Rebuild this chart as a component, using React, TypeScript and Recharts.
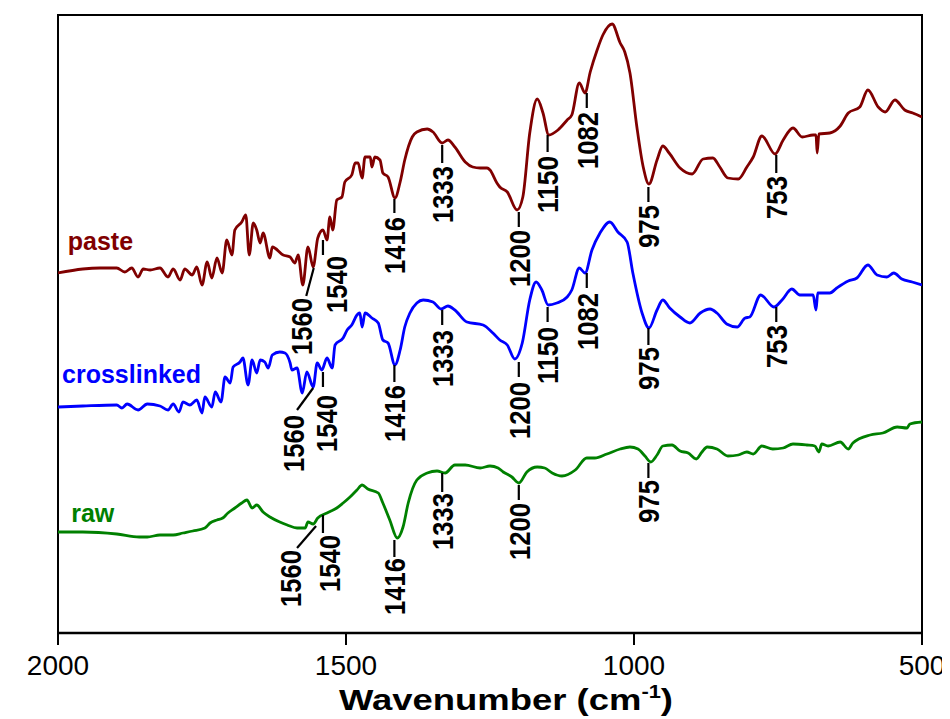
import React from "react";
import { LineChart, Line, XAxis, YAxis, ReferenceLine, ReferenceDot, ReferenceArea } from "recharts";

const FONT = "'Liberation Sans', Arial, Helvetica, sans-serif";

// Wavenumber (cm-1) axis ticks
const xTicks = [2000, 1500, 1000, 500];

// ---- paste spectrum (offset, arbitrary units) ----
const pasteWn = [2000, 1957, 1927, 1898, 1884, 1872, 1861, 1852, 1840, 1823, 1809, 1800, 1788, 1780, 1767, 1759, 1750, 1741, 1733, 1724, 1715, 1707, 1698, 1693, 1681, 1674, 1668, 1661, 1655, 1649, 1644, 1632, 1628, 1609, 1597, 1589, 1583, 1575, 1566, 1557, 1549, 1540, 1533, 1528, 1523, 1516, 1507, 1502, 1490, 1484, 1479, 1472, 1467, 1458, 1455, 1450, 1441, 1436, 1427, 1415, 1406, 1398, 1385, 1377, 1359, 1349, 1333, 1323, 1311, 1293, 1280, 1267, 1255, 1250, 1238, 1233, 1220, 1203, 1193, 1181, 1168, 1158, 1148, 1132, 1116, 1108, 1095, 1085, 1076, 1064, 1054, 1038, 1024, 1016, 1007, 995, 984, 974, 960, 950, 939, 920, 899, 880, 863, 851, 837, 819, 804, 793, 778, 755, 741, 724, 708, 689, 684, 682, 679, 660, 642, 628, 608, 594, 576, 564, 547, 530, 516, 500];
const pasteT = [360, 364, 365, 365, 361, 365, 356, 364, 363, 365, 356, 364, 353, 364, 358, 366, 348, 371, 355, 375, 360, 393, 378, 403, 411, 418, 378, 410, 403, 390, 400, 375, 386, 378, 376, 370, 378, 348, 386, 366, 395, 403, 393, 416, 403, 433, 436, 451, 458, 470, 470, 455, 476, 476, 466, 476, 473, 460, 456, 435, 451, 473, 496, 501, 504, 501, 490, 493, 486, 471, 466, 465, 465, 463, 450, 446, 441, 423, 436, 500, 534, 520, 498, 503, 513, 518, 550, 540, 561, 583, 598, 609, 590, 581, 560, 506, 466, 449, 473, 487, 480, 465, 459, 474, 475, 466, 455, 454, 466, 476, 497, 479, 493, 505, 496, 498, 498, 480, 499, 500, 507, 520, 526, 543, 526, 521, 533, 523, 520, 516];

// ---- crosslinked spectrum ----
const crossWn = [2000, 1957, 1898, 1889, 1880, 1861, 1845, 1823, 1809, 1800, 1790, 1783, 1771, 1759, 1750, 1745, 1733, 1727, 1717, 1710, 1701, 1696, 1684, 1679, 1670, 1663, 1655, 1649, 1641, 1635, 1628, 1615, 1606, 1597, 1594, 1585, 1576, 1568, 1557, 1550, 1542, 1533, 1524, 1519, 1505, 1498, 1490, 1481, 1476, 1472, 1467, 1455, 1444, 1436, 1427, 1415, 1406, 1398, 1389, 1377, 1366, 1349, 1335, 1323, 1311, 1290, 1262, 1245, 1233, 1220, 1207, 1194, 1181, 1170, 1160, 1149, 1134, 1116, 1108, 1095, 1085, 1073, 1059, 1042, 1028, 1012, 1002, 986, 974, 960, 950, 938, 920, 903, 885, 868, 856, 839, 821, 807, 799, 780, 757, 743, 726, 712, 689, 684, 681, 660, 648, 628, 613, 594, 578, 561, 549, 535, 517, 500];
const crossT = [226, 227, 228, 225, 229, 223, 229, 227, 223, 229, 221, 231, 228, 233, 220, 236, 226, 241, 231, 256, 250, 266, 271, 275, 248, 273, 260, 273, 271, 265, 278, 281, 280, 270, 263, 265, 240, 261, 246, 270, 263, 275, 265, 288, 295, 303, 308, 318, 320, 306, 320, 315, 310, 293, 290, 268, 283, 306, 320, 330, 333, 331, 324, 327, 323, 311, 308, 300, 293, 288, 274, 290, 333, 351, 343, 328, 330, 336, 343, 365, 360, 383, 400, 411, 401, 391, 360, 320, 305, 323, 333, 325, 316, 310, 320, 324, 320, 309, 306, 315, 316, 338, 326, 333, 344, 338, 338, 323, 340, 340, 345, 352, 355, 368, 358, 356, 360, 354, 351, 348];

// ---- raw spectrum ----
const rawWn = [2000, 1957, 1898, 1859, 1845, 1823, 1800, 1783, 1766, 1745, 1736, 1724, 1714, 1705, 1693, 1681, 1672, 1663, 1655, 1644, 1632, 1615, 1602, 1585, 1571, 1566, 1557, 1549, 1533, 1516, 1505, 1493, 1481, 1472, 1462, 1444, 1436, 1424, 1411, 1401, 1392, 1377, 1359, 1342, 1328, 1311, 1293, 1267, 1250, 1236, 1227, 1212, 1200, 1186, 1168, 1155, 1142, 1125, 1102, 1082, 1068, 1047, 1024, 1007, 993, 981, 971, 960, 950, 934, 920, 906, 892, 882, 873, 856, 837, 819, 804, 793, 778, 759, 741, 724, 700, 686, 679, 674, 663, 642, 628, 620, 590, 568, 543, 526, 521, 500];
const rawT = [101, 101, 99, 96, 96, 98, 98, 100, 102, 105, 110, 113, 115, 120, 125, 130, 133, 125, 128, 121, 116, 111, 108, 105, 105, 111, 109, 115, 120, 125, 130, 136, 143, 148, 144, 140, 130, 113, 95, 106, 130, 153, 160, 162, 160, 168, 168, 165, 167, 165, 161, 156, 150, 161, 166, 165, 160, 157, 163, 175, 175, 179, 184, 186, 184, 177, 171, 178, 187, 188, 182, 180, 174, 181, 186, 184, 177, 178, 181, 179, 187, 184, 185, 189, 188, 187, 181, 189, 187, 191, 184, 190, 198, 200, 206, 205, 209, 211];

// ---- band marks: tick segment (x1,y1)-(x2,y2) and label anchor (tx,ty = top end of text) ----
const pasteMarks = [
  { label: "1560", x1: 1556, y1: 365, x2: 1569, y2: 337, tx: 1577, ty: 335 },
  { label: "1540", x1: 1540, y1: 393, x2: 1540, y2: 378, tx: 1517, ty: 377 },
  { label: "1416", x1: 1416, y1: 434, x2: 1416, y2: 420, tx: 1416, ty: 416 },
  { label: "1333", x1: 1333, y1: 488, x2: 1333, y2: 470, tx: 1333, ty: 467 },
  { label: "1200", x1: 1200, y1: 421, x2: 1200, y2: 406, tx: 1200, ty: 403 },
  { label: "1150", x1: 1150, y1: 498, x2: 1150, y2: 481, tx: 1150, ty: 477 },
  { label: "1082", x1: 1082, y1: 540, x2: 1082, y2: 525, tx: 1082, ty: 521 },
  { label: "975", x1: 975, y1: 446, x2: 975, y2: 431, tx: 975, ty: 428 },
  { label: "753", x1: 753, y1: 478, x2: 753, y2: 460, tx: 753, ty: 457 },
];
const crossMarks = [
  { label: "1560", x1: 1557, y1: 245, x2: 1585, y2: 223, tx: 1592, ty: 218 },
  { label: "1540", x1: 1540, y1: 261, x2: 1540, y2: 246, tx: 1535, ty: 238 },
  { label: "1416", x1: 1416, y1: 268, x2: 1416, y2: 251, tx: 1416, ty: 248 },
  { label: "1333", x1: 1333, y1: 323, x2: 1333, y2: 308, tx: 1333, ty: 303 },
  { label: "1200", x1: 1200, y1: 271, x2: 1200, y2: 256, tx: 1200, ty: 251 },
  { label: "1150", x1: 1150, y1: 326, x2: 1150, y2: 311, tx: 1150, ty: 306 },
  { label: "1082", x1: 1082, y1: 360, x2: 1082, y2: 345, tx: 1082, ty: 340 },
  { label: "975", x1: 975, y1: 305, x2: 975, y2: 288, tx: 975, ty: 286 },
  { label: "753", x1: 753, y1: 326, x2: 753, y2: 311, tx: 753, ty: 308 },
];
const rawMarks = [
  { label: "1560", x1: 1552, y1: 107, x2: 1585, y2: 85, tx: 1597, ty: 83 },
  { label: "1540", x1: 1540, y1: 118, x2: 1540, y2: 100, tx: 1530, ty: 98 },
  { label: "1416", x1: 1416, y1: 93, x2: 1416, y2: 76, tx: 1416, ty: 75 },
  { label: "1333", x1: 1333, y1: 160, x2: 1333, y2: 141, tx: 1333, ty: 140 },
  { label: "1200", x1: 1200, y1: 148, x2: 1200, y2: 133, tx: 1200, ty: 130 },
  { label: "975", x1: 975, y1: 170, x2: 975, y2: 155, tx: 975, ty: 153 },
];

// series names with label anchor (wavenumber, level)
const seriesNames = ["paste", "crosslinked", "raw"];
const seriesColors = ["#800000", "#0000FF", "#008000"];
const nameWn = [1983, 1993, 1977];
const nameT = [383, 250, 111];

const zip = (wn: number[], t: number[]) => wn.map((w, i) => ({ wn: w, t: t[i] }));
const pasteData = zip(pasteWn, pasteT);
const crossData = zip(crossWn, crossT);
const rawData = zip(rawWn, rawT);
const allMarks = [...pasteMarks, ...crossMarks, ...rawMarks];

const markText = (label: string) => (p: any) => (
  <text
    transform={`translate(${p.cx},${p.cy}) rotate(-90)`}
    x={0}
    y={0}
    dy="0.36em"
    textAnchor="end"
    fontFamily={FONT}
    fontWeight="bold"
    fontSize={30}
    fill="#000"
    textLength={label.length === 4 ? 57 : 43}
    lengthAdjust="spacingAndGlyphs"
  >
    {label}
  </text>
);

const nameText = (name: string, color: string) => (p: any) => (
  <text x={p.cx} y={p.cy} textAnchor="start" fontFamily={FONT} fontWeight="bold" fontSize={25} fill={color}>
    {name}
  </text>
);

const XTitle = (props: any) => {
  const vb = props.viewBox;
  return (
    <text
      x={vb.x + vb.width / 2 + 16}
      y={vb.y + 77}
      textAnchor="middle"
      fontFamily={FONT}
      fontWeight="bold"
      fontSize={30}
      fill="#000"
      textLength={334}
      lengthAdjust="spacingAndGlyphs"
    >
      Wavenumber (cm
      <tspan dy={-12} fontSize={18}>-1</tspan>
      <tspan dy={12}>)</tspan>
    </text>
  );
};

const YTitle = (props: any) => {
  const vb = props.viewBox;
  const cx = vb.x - 27;
  const cy = vb.y + vb.height / 2 - 54;
  return (
    <text
      transform={`translate(${cx},${cy}) rotate(-90)`}
      x={0}
      y={0}
      dy="0.36em"
      textAnchor="middle"
      fontFamily={FONT}
      fontWeight="bold"
      fontSize={32}
      fill="#000"
      textLength={394}
      lengthAdjust="spacingAndGlyphs"
    >
      Transmitance (A.U)
    </text>
  );
};

export default function App() {
  return (
    <div style={{ fontFamily: FONT, width: 942, height: 711 }}>
      <LineChart width={942} height={711} margin={{ top: 7, right: 28, left: 50, bottom: 0 }}>
        <XAxis
          type="number"
          dataKey="wn"
          domain={[500, 2000]}
          reversed
          allowDataOverflow
          ticks={xTicks}
          interval={0}
          height={86}
          tickSize={12}
          tickMargin={10}
          axisLine={{ stroke: "#000", strokeWidth: 2.5 }}
          tickLine={{ stroke: "#000", strokeWidth: 2 }}
          tick={{ fill: "#000", fontSize: 28, fontFamily: FONT }}
          label={XTitle}
        />
        <YAxis
          type="number"
          domain={[0, 618]}
          allowDataOverflow
          width={0}
          tick={false}
          tickLine={false}
          axisLine={false}
          label={YTitle}
        />
        <ReferenceArea x1={2000} x2={500} y1={0} y2={618} fill="none" fillOpacity={0} stroke="#000" strokeWidth={2} />
        <Line data={pasteData} dataKey="t" stroke={seriesColors[0]} strokeWidth={2.8} dot={false} type="monotone" isAnimationActive={false} />
        <Line data={crossData} dataKey="t" stroke={seriesColors[1]} strokeWidth={2.8} dot={false} type="monotone" isAnimationActive={false} />
        <Line data={rawData} dataKey="t" stroke={seriesColors[2]} strokeWidth={2.8} dot={false} type="monotone" isAnimationActive={false} />
        {allMarks.map((m, i) => (
          <ReferenceLine
            key={"l" + i}
            segment={[{ x: m.x1, y: m.y1 }, { x: m.x2, y: m.y2 }]}
            stroke="#000"
            strokeWidth={2.2}
          />
        ))}
        {allMarks.map((m, i) => (
          <ReferenceDot key={"t" + i} x={m.tx} y={m.ty} r={0} shape={markText(m.label)} />
        ))}
        {seriesNames.map((n, i) => (
          <ReferenceDot key={"n" + i} x={nameWn[i]} y={nameT[i]} r={0} shape={nameText(n, seriesColors[i])} />
        ))}
      </LineChart>
    </div>
  );
}
